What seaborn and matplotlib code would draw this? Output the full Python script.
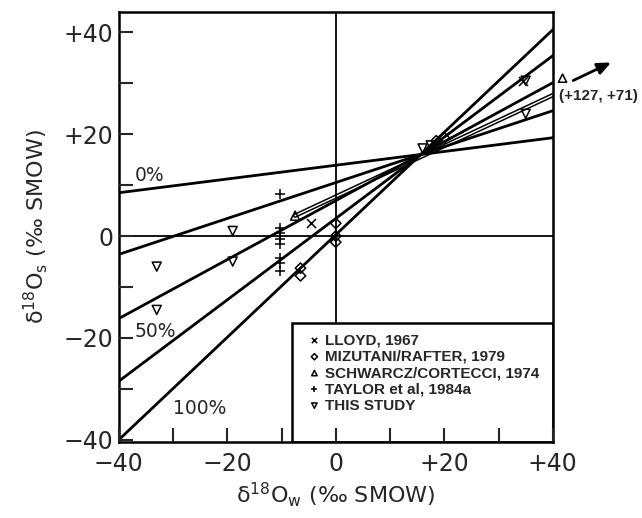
import numpy as np
import pandas as pd
import matplotlib
matplotlib.use("Agg")
import matplotlib.pyplot as plt
from matplotlib.patches import Rectangle
import seaborn as sns

# mixing lines: value read at the left edge (x=-40) and right edge (x=+40)
line_names = ["0%", "25%", "50%", "75%", "100%"]
line_left = [8.5, -3.6, -16.2, -28.5, -40.0]
line_right = [19.3, 24.6, 30.1, 35.4, 40.5]
edge_x = [-40, 40]

# Schwarcz/Cortecci line runs off the chart to (+127, +71)
sc_line_x = [-7.5, 127]
sc_line_y = [4.0, 71]

# data points
lloyd_x = [-4.5, 34.5]
lloyd_y = [2.5, 30.5]
mizutani_x = [0, 0, 0, -6.5, -6.5, 18.5, 20]
mizutani_y = [2.5, 0, -1.2, -6.3, -7.8, 18.7, 19.3]
schwarcz_x = [-7.5]
schwarcz_y = [4.0]
taylor_x = [-10.3, -10.3, -10.3, -10.3, -10.3, -10.3, -10.3, -10.3]
taylor_y = [8.3, 1.6, 0.6, -0.5, -1.5, -4.3, -5.3, -6.8]
study_x = [-19, -19, -33, -33, 35, 35, 16, 17.5]
study_y = [1.0, -5.0, -6.0, -14.5, 30.5, 24.0, 17.2, 17.8]

legend_names = ["LLOYD, 1967", "MIZUTANI/RAFTER, 1979",
                "SCHWARCZ/CORTECCI, 1974", "TAYLOR et al, 1984a", "THIS STUDY"]

xticks = [-40, -20, 0, 20, 40]
xtick_labels = ["\u221240", "\u221220", "0", "+20", "+40"]
yticks = [-40, -20, 0, 20, 40]
ytick_labels = ["\u221240", "\u221220", "0", "+20", "+40"]

sns.set_style("ticks")
plt.rcParams["font.family"] = ["DejaVu Sans"]
plt.rcParams["mathtext.fontset"] = "dejavusans"

fig = plt.figure(figsize=(6.42, 5.18), dpi=100)
ax = fig.add_axes([0.185, 0.147, 0.676, 0.830])

# hollow Schwarcz/Cortecci line first, so the others sit on top
sns.lineplot(x=sc_line_x, y=sc_line_y, color="black", linewidth=3.2, ax=ax)
sns.lineplot(x=sc_line_x, y=sc_line_y, color="white", linewidth=1.0, ax=ax)

for name, l, r in zip(line_names, line_left, line_right):
    sns.lineplot(x=edge_x, y=[l, r], color="black", linewidth=2.0, ax=ax)

ax.axhline(0, color="black", linewidth=1.3)
ax.axvline(0, color="black", linewidth=1.3)

mk = dict(s=42, linewidth=1.1, ax=ax, zorder=3)
sns.scatterplot(x=lloyd_x, y=lloyd_y, marker="x", color="black", label=legend_names[0], **mk)
sns.scatterplot(x=mizutani_x, y=mizutani_y, marker="D", color="black",
                facecolor="none", edgecolor="black", label=legend_names[1], **dict(mk, s=28))
sns.scatterplot(x=schwarcz_x, y=schwarcz_y, marker="^", color="black",
                facecolor="none", edgecolor="black", label=legend_names[2], **mk)
sns.scatterplot(x=taylor_x, y=taylor_y, marker="+", color="black", label=legend_names[3], **dict(mk, s=60))
sns.scatterplot(x=study_x, y=study_y, marker="v", color="black",
                facecolor="none", edgecolor="black", label=legend_names[4], **mk)

# off-chart Schwarcz point
ax.scatter([41.8], [31.0], marker="^", s=35, facecolor="none", edgecolor="black",
           linewidth=1.1, clip_on=False)
ax.annotate("", xy=(51.2, 34.3), xytext=(43.3, 30.3), annotation_clip=False,
            arrowprops=dict(arrowstyle="-|>,head_length=0.8,head_width=0.35",
                            color="black", lw=2))
ax.text(41.2, 27.4, "(+127, +71)", fontsize=11, ha="left", va="center",
        family=["Liberation Sans Narrow", "Liberation Sans"], fontweight="bold")

# percentage labels
ax.text(-34.3, 11.8, "0%", fontsize=13.5, ha="center", va="center")
ax.text(-33.3, -18.7, "50%", fontsize=13.5, ha="center", va="center")
ax.text(-25.0, -33.9, "100%", fontsize=13.5, ha="center", va="center")

ax.set_xlim(-40, 40)
ax.set_ylim(-40.4, 44)
ax.set_xticks(xticks)
ax.set_xticklabels(xtick_labels)
ax.set_yticks(yticks)
ax.set_yticklabels(ytick_labels)
ax.set_xticks([-30, -10, 10, 30], minor=True)
ax.set_yticks([-30, -10, 10, 30], minor=True)
ax.tick_params(which="both", direction="in", length=10, width=1.5,
               top=False, right=False, labelsize=17)
ax.tick_params(axis="y", pad=4)
ax.tick_params(axis="x", pad=7)
ax.set_axisbelow(False)
for sp in ax.spines.values():
    sp.set_linewidth(1.8)
    sp.set_color("black")

ax.set_xlabel("\u03b4$^{18}$O$_\\mathregular{w}$ (‰ SMOW)", fontsize=16, labelpad=3)
ax.set_ylabel("\u03b4$^{18}$O$_\\mathregular{s}$ (‰ SMOW)", fontsize=16, labelpad=10)

# legend box sitting on the bottom right of the plot
ax.add_patch(Rectangle((0.40, 0.0), 0.60, 0.277, transform=ax.transAxes,
                       facecolor="white", edgecolor="black", linewidth=1.8, zorder=2.3))
leg = ax.legend(loc="upper left", bbox_to_anchor=(0.405, 0.277), frameon=False,
                handletextpad=0.1, labelspacing=0.15, borderpad=0.2, handlelength=1.2,
                markerscale=0.6,
                prop=dict(family="Liberation Sans", weight="bold", size=11))
leg.set_zorder(4)

fig.savefig("out.png", dpi=100)
